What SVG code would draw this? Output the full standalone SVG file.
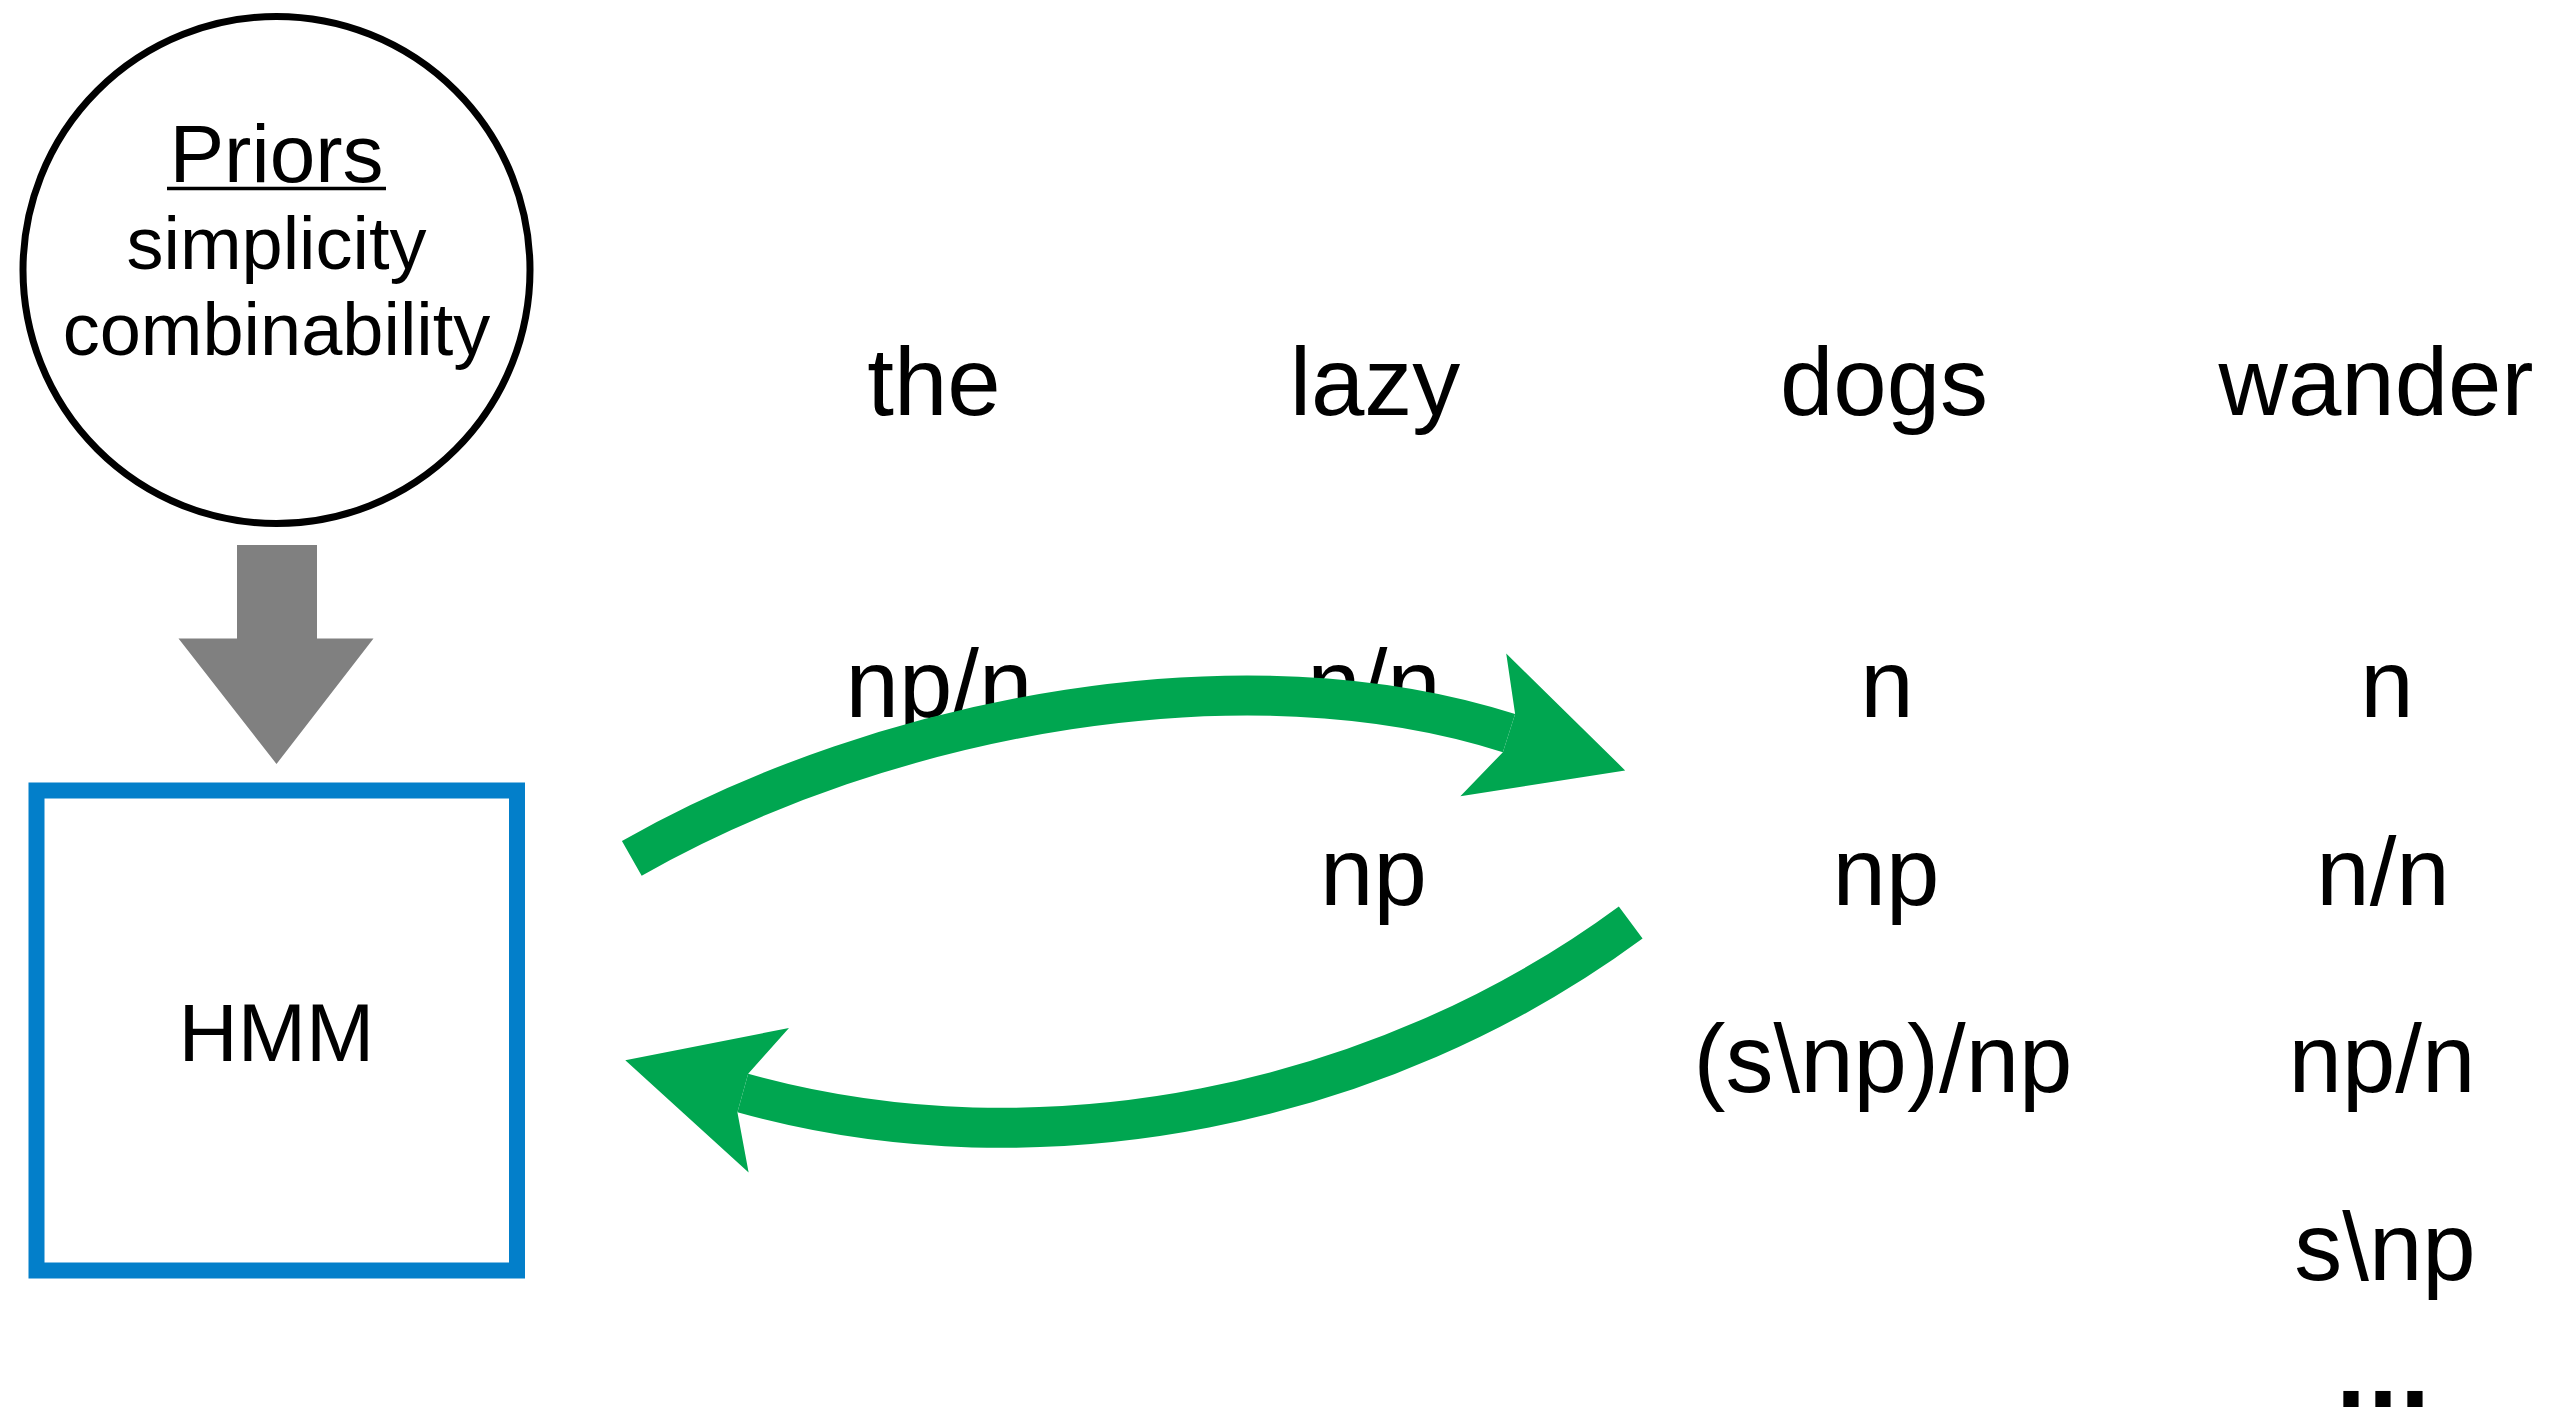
<svg xmlns="http://www.w3.org/2000/svg" xmlns:xlink="http://www.w3.org/1999/xlink" width="2572" height="1410" viewBox="0 0 2572 1410">
  <style>
    .lbl { font-family: "Liberation Sans", Arial, sans-serif; fill: #000; text-anchor: middle; }
    .big { font-size: 96px; }
    .mid { font-size: 82px; }
    .small { font-size: 74px; }
    .shaft { fill: none; stroke: #00A650; stroke-width: 40; stroke-linecap: butt; }
    .head { fill: #00A650; }
  </style>
  <defs>
    <!-- swept arrowhead; origin sits on the end of the shaft centre line -->
    <path id="greenHead" d="M0,-20 L-27,-75 L122,0 L-27,75 L0,20 Z"/>
  </defs>

  <rect width="2572" height="1410" fill="#fff"/>

  <!-- prior knowledge node -->
  <g id="node-priors">
    <circle cx="276.5" cy="270" r="253.5" fill="#fff" stroke="#000" stroke-width="7"/>
    <text class="lbl mid" x="276.5" y="181.5">Priors</text>
    <line x1="167" y1="188.5" x2="386" y2="188.5" stroke="#000" stroke-width="3.5"/>
    <text class="lbl small" x="276.5" y="269">simplicity</text>
    <text class="lbl small" x="276.5" y="355">combinability</text>
  </g>

  <!-- model node -->
  <g id="node-hmm">
    <rect x="36.5" y="790.5" width="480.5" height="480" fill="#fff" stroke="#037FCA" stroke-width="16"/>
    <text class="lbl mid" x="276.5" y="1061">HMM</text>
  </g>

  <!-- sentence -->
  <g id="node-words">
    <text class="lbl big" x="934" y="415">the</text>
    <text class="lbl big" x="1375" y="415">lazy</text>
    <text class="lbl big" x="1884" y="415">dogs</text>
    <text class="lbl big" x="2376" y="415">wander</text>
  </g>

  <!-- candidate categories per word -->
  <g id="node-cats-the">
    <text class="lbl big" x="939" y="717">np/n</text>
  </g>
  <g id="node-cats-lazy">
    <text class="lbl big" x="1374" y="717">n/n</text>
    <text class="lbl big" x="1373.5" y="905">np</text>
  </g>
  <g id="node-cats-dogs">
    <text class="lbl big" x="1887" y="717">n</text>
    <text class="lbl big" x="1886" y="905">np</text>
    <text class="lbl big" x="1883" y="1092">(s\np)/np</text>
  </g>
  <g id="node-cats-wander">
    <text class="lbl big" x="2387" y="717">n</text>
    <text class="lbl big" x="2383" y="905">n/n</text>
    <text class="lbl big" x="2382" y="1092">np/n</text>
    <text class="lbl big" x="2385" y="1280">s\np</text>
    <text class="lbl" x="2384" y="1407" font-size="108" font-weight="bold" letter-spacing="2">...</text>
  </g>

  <g id="connectors">
    <!-- priors feed the model -->
    <polygon points="237,545 317,545 317,638.5 373.5,638.5 276.5,764 178.5,638.5 237,638.5" fill="#808080"/>
    <!-- model proposes categories -->
    <path class="shaft" d="M631.8,858.3 C888.5,712.6 1246.9,648.9 1509,733.1"/>
    <use xlink:href="#greenHead" class="head" transform="translate(1509,733.1) rotate(17.8)"/>
    <!-- categories re-estimate the model -->
    <path class="shaft" d="M1630.7,922.5 C1381.5,1106.3 1041.3,1176.4 742.8,1093"/>
    <use xlink:href="#greenHead" class="head" transform="translate(742.8,1093) rotate(195.6)"/>
  </g>
</svg>
